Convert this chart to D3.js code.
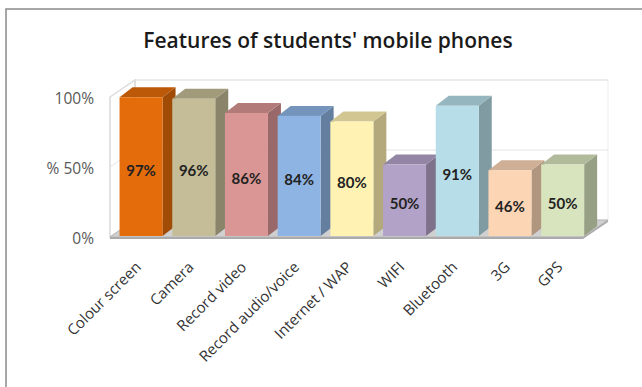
<!DOCTYPE html>
<html>
<head>
<meta charset="utf-8">
<script src="https://cdn.jsdelivr.net/npm/d3@7"></script>
<style>
  html, body { margin: 0; padding: 0; background: #fff; }
  svg { display: block; }
</style>
</head>
<body>
<svg id="chart" width="642" height="387"></svg>
<script>
// ---- data ----
const categories = ["Colour screen", "Camera", "Record video", "Record audio/voice",
  "Internet / WAP", "WIFI", "Bluetooth", "3G", "GPS"];
const values = [97, 96, 86, 84, 80, 50, 91, 46, 50];
const barColors = ["#E46C0A", "#C4BD97", "#D99694", "#8EB4E3", "#FFF2B3",
  "#B3A2C7", "#B7DEE8", "#FCD5B5", "#D7E4BD"];
const tickValues = [0, 50, 100];
const tickLabels = ["0%", "% 50%", "100%"];
const title = "Features of students' mobile phones";

// ---- layout ----
const svg = d3.select("#chart");
const dx = 13, dy = 10;          // bar depth
const wdx = 25, wdy = 17;        // floor / wall depth
const floorFrontY = 237, floorLeft = 110, floorRight = 583;
const OS = "'Open Sans', sans-serif";

const x = d3.scaleBand().domain(categories).range([114.7, 589])
  .paddingInner(0.184).paddingOuter(0.092);
const y = d3.scaleLinear().domain([0, 100]).range([236, 93]);            // bar fronts
const yEdge = d3.scaleLinear().domain([0, 100]).range([floorFrontY, 97]); // front edge of side wall
const yBack = d3.scaleLinear().domain([0, 100]).range([floorFrontY - wdy, 80]); // back wall

// outer frame
svg.append("rect").attr("x", 6).attr("y", 9).attr("width", 700).attr("height", 420)
  .attr("fill", "none").attr("stroke", "#8a8a8a").attr("stroke-width", 1.5);

// title
svg.append("text").attr("x", 328).attr("y", 48).attr("text-anchor", "middle")
  .style("font-family", OS).style("font-size", "21px").style("font-weight", 600)
  .attr("fill", "#1a1a1a").text(title);

// back wall
const bx0 = floorLeft + wdx, bx1 = floorRight + wdx;
svg.append("rect").attr("x", bx0).attr("y", yBack(100)).attr("width", bx1 - bx0)
  .attr("height", yBack(0) - yBack(100)).attr("fill", "#fff").attr("stroke", "#ececec");
// side wall
svg.append("polygon")
  .attr("points", [[floorLeft, yEdge(100)], [bx0, yBack(100)], [bx0, yBack(0)], [floorLeft, yEdge(0)]].join(" "))
  .attr("fill", "#fff").attr("stroke", "#cfcfcf").attr("stroke-width", 1.2);
// gridlines
tickValues.filter(v => v > 0).forEach(v => {
  svg.append("polyline")
    .attr("points", [[floorLeft, yEdge(v)], [bx0, yBack(v)], [bx1, yBack(v)]].join(" "))
    .attr("fill", "none").attr("stroke", "#e4e4e4").attr("stroke-width", 1);
});
// floor
svg.append("polygon")
  .attr("points", [[floorLeft, floorFrontY], [floorRight, floorFrontY], [bx1, yBack(0)], [bx0, yBack(0)]].join(" "))
  .attr("fill", "#d0d0d0").attr("stroke", "#b8b8b8");
svg.append("polygon")
  .attr("points", [[floorLeft, floorFrontY], [floorRight, floorFrontY], [bx1, yBack(0)], [bx1, yBack(0) + 2], [floorRight, floorFrontY + 2], [floorLeft, floorFrontY + 2]].join(" "))
  .attr("fill", "#ababab");

// y axis labels
const yAxis = d3.axisLeft(yEdge).tickValues(tickValues)
  .tickFormat((d, i) => tickLabels[i]).tickSize(0).tickPadding(0);
const gAxis = svg.append("g").attr("transform", "translate(94,2)").call(yAxis);
gAxis.select(".domain").remove();
gAxis.selectAll("text").attr("fill", "#595959")
  .style("font-family", OS).style("font-size", "15.5px");

// bars
const bars = svg.append("g").selectAll("g").data(values).join("g");
bars.each(function (v, i) {
  const g = d3.select(this);
  const x0 = x(categories[i]), w = x.bandwidth(), x1 = x0 + w;
  const yt = y(v), yb = y(0);
  const c = d3.color(barColors[i]);
  g.append("polygon")
    .attr("points", [[x1, yt], [x1 + dx, yt - dy], [x1 + dx, yb - dy], [x1, yb]].join(" "))
    .attr("fill", c.darker(1).formatHex());
  g.append("polygon")
    .attr("points", [[x0, yt], [x0 + dx, yt - dy], [x1 + dx, yt - dy], [x1, yt]].join(" "))
    .attr("fill", c.darker(0.55).formatHex());
  g.append("rect").attr("x", x0).attr("y", yt).attr("width", w).attr("height", yb - yt)
    .attr("fill", c.formatHex());
  g.append("text").attr("x", x0 + w / 2).attr("y", (yt + yb) / 2 + 3)
    .attr("text-anchor", "middle").attr("dominant-baseline", "central")
    .style("font-family", "Lato, sans-serif").style("font-size", "15px").style("font-weight", "bold")
    .attr("fill", "#222").text(v + "%");
});

// category labels
svg.append("g").selectAll("text").data(categories).join("text")
  .attr("transform", d => `translate(${x(d) + x.bandwidth() / 2 + 1},268) rotate(-45)`)
  .attr("text-anchor", "end").style("font-family", OS).style("font-size", "15px")
  .attr("fill", "#333").text(d => d);
</script>
</body>
</html>
